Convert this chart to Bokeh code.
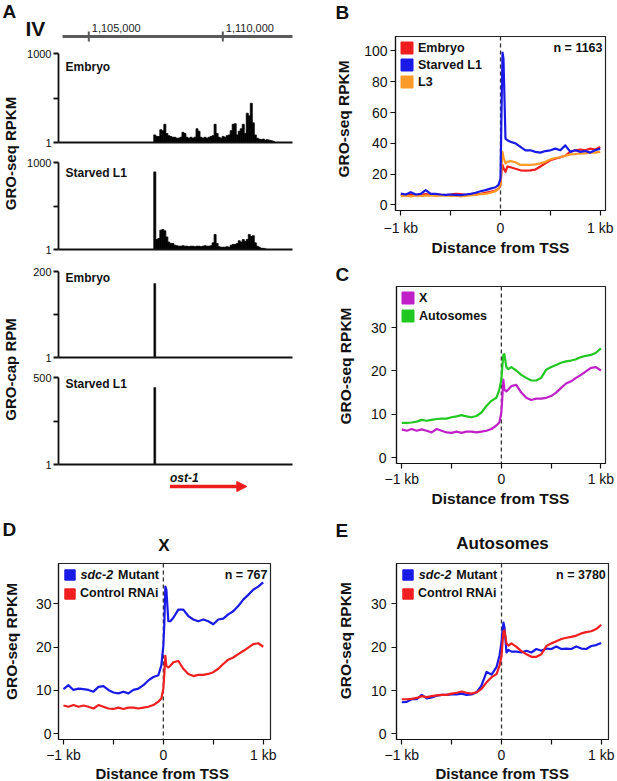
import math
from bokeh.plotting import figure
from bokeh.models import (Range1d, FixedTicker, Label, Span, Legend, LegendItem,
                          Arrow, NormalHead, PrintfTickFormatter)
from bokeh.layouts import row, column
from bokeh.embed import file_html
from bokeh.resources import INLINE

FONT = "Liberation Sans"
INK = "#111111"

# ---------------- Panel A data: genome browser, chromosome IV ----------------
chrom = "IV"
region_start = 1103870
region_end = 1112600
ruler_start = 1104020
ruler_ticks = [1105000, 1110000]
ruler_labels = ["1,105,000", "1,110,000"]
tss = 1107425
gene_end = 1110860
gene_name = "ost-1"
bin_size = 75
track_names = ["Embryo", "Starved L1", "Embryo", "Starved L1"]
track_max = [1000, 1000, 200, 500]
groseq_embryo = [1.8, 1.6, 1.6, 2.7, 2.5, 4.1, 2.0, 1.7, 1.6, 1.5,
                 1.5, 1.4, 1.4, 1.5, 2.2, 2.0, 1.5, 1.4, 1.5, 1.4,
                 1.5, 2.9, 2.4, 1.5, 1.4, 1.5, 1.4, 1.5, 1.6, 1.7,
                 4.1, 2.0, 1.5, 1.4, 1.6, 1.5, 1.7, 1.8, 2.5, 4.1,
                 4.3, 1.8, 2.4, 2.9, 4.1, 2.0, 9.7, 7.9, 21.0, 4.6,
                 1.8, 1.4, 1.3, 1.25, 1.3, 1.2, 1.25, 1.2, 1.15, 1.1]
groseq_l1 = [475, 2.2, 2.4, 4.6, 4.9, 4.4, 2.7, 1.8, 1.6, 1.6,
             1.4, 1.35, 1.3, 1.3, 1.35, 1.3, 1.3, 1.25, 1.3, 1.3,
             1.25, 1.3, 1.3, 1.25, 1.3, 1.35, 1.3, 1.3, 1.35, 1.7,
             3.3, 1.6, 1.25, 1.2, 1.2, 1.2, 1.25, 1.2, 1.4, 1.5,
             1.5, 1.6, 2.0, 1.8, 2.2, 1.9, 2.2, 3.3, 2.8, 3.0,
             1.7, 1.3, 1.2, 1.1, 1.1, 1.05]
grocap_embryo = [95]
grocap_l1 = [246]

# ---------------- Panels B-E data: metagene profiles (kb from TSS) ----------------
dist_kb = [-1.0, -0.95, -0.9, -0.85, -0.8, -0.75, -0.7, -0.65, -0.6, -0.55,
           -0.5, -0.45, -0.4, -0.35, -0.3, -0.25, -0.2, -0.15, -0.1, -0.05,
           -0.02, 0.0, 0.01, 0.02, 0.03, 0.05, 0.07, 0.1, 0.15, 0.2,
           0.25, 0.3, 0.35, 0.4, 0.45, 0.5, 0.55, 0.6, 0.65, 0.7,
           0.75, 0.8, 0.85, 0.9, 0.95, 1.0]
b_embryo = [6.5, 6.3, 6.8, 6.4, 6.6, 7.0, 6.5, 6.8, 6.6, 6.4,
            6.8, 7.2, 7.0, 6.6, 6.8, 7.0, 7.2, 7.8, 8.5, 9.4,
            10.5, 13.0, 21.7, 26.0, 24.0, 21.5, 25.0, 24.5, 23.5, 22.5,
            22.3, 22.5, 23.0, 25.0, 27.0, 29.0, 30.0, 31.0, 32.0, 34.5,
            35.5, 36.0, 35.5, 36.6, 36.0, 37.7]
b_l1 = [7.4, 6.8, 8.3, 6.8, 7.2, 9.6, 7.2, 7.2, 6.8, 6.6,
        6.8, 6.6, 6.4, 6.8, 7.2, 7.9, 8.9, 9.6, 10.6, 11.5,
        13.0, 17.0, 60.0, 99.0, 95.0, 43.0, 42.0, 41.0, 40.0, 37.7,
        35.5, 35.5, 34.5, 34.0, 35.0, 35.5, 36.6, 35.5, 38.7, 34.5,
        35.5, 34.5, 35.0, 34.0, 35.5, 36.6]
b_l3 = [5.8, 6.0, 5.6, 6.2, 5.8, 6.0, 6.2, 5.8, 6.0, 6.2,
        5.8, 6.0, 5.6, 5.8, 6.2, 6.5, 7.0, 7.2, 7.9, 9.0,
        10.5, 14.0, 25.0, 34.5, 31.0, 27.0, 28.0, 28.5, 27.7, 26.0,
        26.0, 26.0, 26.4, 27.0, 28.0, 29.6, 30.5, 31.0, 32.0, 32.8,
        33.0, 33.4, 33.5, 34.0, 34.0, 34.5]
x_control = [6.5, 6.2, 6.6, 6.2, 6.5, 6.2, 5.8, 6.6, 6.2, 5.8,
             5.7, 6.0, 5.7, 6.0, 6.0, 5.8, 6.0, 6.2, 6.6, 7.4,
             8.1, 10.4, 14.0, 18.0, 15.7, 15.3, 15.7, 16.5, 16.8, 15.0,
             13.8, 13.3, 13.6, 13.6, 13.8, 14.2, 15.0, 16.1, 17.1, 17.6,
             18.4, 19.1, 19.9, 20.7, 20.9, 20.1]
auto_control = [8.0, 8.0, 8.1, 8.3, 8.7, 8.5, 8.7, 8.9, 9.0, 9.0,
                9.3, 9.5, 9.8, 9.5, 9.3, 9.6, 10.4, 11.9, 13.1, 13.8,
                15.7, 18.0, 21.0, 23.7, 23.9, 20.9, 20.4, 20.9, 20.1, 19.1,
                18.4, 17.8, 17.8, 18.4, 20.3, 20.9, 21.4, 21.9, 22.2, 22.4,
                22.7, 23.2, 23.5, 23.7, 24.2, 25.2]
x_sdc2 = [10.3, 11.2, 10.1, 10.4, 10.3, 10.1, 9.7, 10.8, 11.0, 10.1,
          9.5, 9.3, 9.7, 9.3, 10.1, 10.4, 11.2, 12.3, 13.1, 13.5,
          15.8, 20.3, 25.7, 34.0, 33.3, 26.0, 26.0, 26.8, 28.7, 28.7,
          27.2, 26.4, 26.0, 26.4, 26.0, 25.3, 26.4, 26.6, 27.6, 28.3,
          29.5, 31.0, 32.1, 33.3, 34.0, 35.0]
auto_sdc2 = [7.3, 7.4, 8.0, 8.0, 9.0, 8.2, 8.4, 8.8, 9.0, 9.0,
             9.1, 9.1, 9.3, 9.0, 9.1, 9.6, 11.2, 14.3, 13.7, 15.4,
             18.1, 21.1, 24.0, 25.7, 24.5, 18.8, 19.4, 19.0, 19.0, 18.8,
             19.2, 18.8, 19.6, 19.2, 19.7, 19.6, 20.2, 19.6, 19.7, 19.6,
             20.2, 19.7, 19.6, 20.3, 20.5, 21.0]
n_genes = {"B": "n = 1163", "D": "n = 767", "E": "n = 3780"}

RED = "#F01E1E"
BLUE = "#1A1AE6"
ORANGE = "#FF9A28"
MAGENTA = "#C020C8"
GREEN = "#22C822"
NAN = float("nan")


# ---------------- layout helpers (pixel boxes: left, top, right, bottom) ----------------
def panel(box, frame, xr, yr, ylog=False, axes=True):
    L, T, R, B = box
    fl, ft, fr, fb = frame
    p = figure(width=R - L, height=B - T,
               x_range=Range1d(*xr), y_range=Range1d(*yr),
               y_axis_type="log" if ylog else "linear",
               x_axis_location="below" if axes else None,
               y_axis_location="left" if axes else None,
               min_border_left=round(fl - L), min_border_right=round(R - fr),
               min_border_top=round(ft - T), min_border_bottom=round(B - fb),
               output_backend="svg", toolbar_location=None,
               background_fill_color="white", border_fill_color="white")
    p.grid.visible = False
    p.outline_line_color = None
    fl, fr = L + round(fl - L), R - round(R - fr)
    ft, fb = T + round(ft - T), B - round(B - fb)

    def dx(r):
        return xr[0] + (r - fl) / (fr - fl) * (xr[1] - xr[0])

    def dy(r):
        t = (fb - r) / (fb - ft)
        if ylog:
            a, b = math.log10(yr[0]), math.log10(yr[1])
            return 10 ** (a + t * (b - a))
        return yr[0] + t * (yr[1] - yr[0])

    return p, dx, dy


def strip(box):
    p, _, _ = panel(box, box, (box[0], box[2]), (box[3], box[1]), axes=False)
    return p


def label(p, x, y, text, size, style="normal", align="left", angle=0.0,
          color=INK, x_offset=0):
    p.add_layout(Label(x=x, y=y, text=text, text_font=FONT,
                       text_font_size=f"{size}px", text_font_style=style,
                       text_align=align, text_baseline="middle", angle=angle,
                       text_color=color, x_offset=x_offset))


def style_axis(ax, standoff, size="14px", width=1.2, tick=5):
    ax.axis_line_color = INK
    ax.axis_line_width = width
    ax.major_tick_line_color = INK
    ax.major_tick_line_width = width
    ax.minor_tick_line_color = INK
    ax.minor_tick_line_width = width
    ax.major_tick_in = 0
    ax.major_tick_out = tick
    ax.minor_tick_in = 0
    ax.minor_tick_out = tick
    ax.major_label_standoff = standoff
    ax.major_label_text_font = FONT
    ax.major_label_text_font_size = size
    ax.major_label_text_color = INK


# ---------------- Panel A ----------------
T_FL, T_FR = 58, 292
bp_per_px = (region_end - region_start) / (T_FR - T_FL)
head_xr = (region_start - T_FL * bp_per_px, region_start + (300 - T_FL) * bp_per_px)

head, hdx, hdy = panel((0, 0, 300, 46), (0, 0, 300, 46), head_xr, (46, 0), axes=False)
label(head, hdx(2), 10.5, "A", 19, "bold")
label(head, hdx(25), 27.5, chrom, 21, "bold")
head.line([ruler_start, region_end], [36, 36], line_color="#5a5a5a", line_width=3)
head.segment(x0=ruler_ticks, x1=ruler_ticks, y0=[31] * len(ruler_ticks),
             y1=[41] * len(ruler_ticks), line_color="#5a5a5a", line_width=2)
for tk, tl in zip(ruler_ticks, ruler_labels):
    label(head, tk, 27, tl, 11, x_offset=3, color="#222222")

labcol = strip((0, 46, 20, 513))
label(labcol, 10, 153, "GRO-seq RPKM", 15, "bold", align="center", angle=math.pi / 2)
label(labcol, 9.5, 369, "GRO-cap RPM", 15, "bold", align="center", angle=math.pi / 2)

track_boxes = [(46, 148, 53, 141.5), (148, 256, 162, 249),
               (256, 364, 271, 357), (364, 470, 377, 464)]
track_vals = [groseq_embryo, groseq_l1, grocap_embryo, grocap_l1]
track_label_y = [66, 172.5, 277, 383]
tracks = []
for (bt, bb, ftop, fbot), vals, top, name, ly in zip(track_boxes, track_vals, track_max,
                                                     track_names, track_label_y):
    p, dx, dy = panel((20, bt, 300, bb), (T_FL, ftop, T_FR, fbot),
                      (region_start, region_end), (1, top), ylog=True)
    xs = [tss + (i + 0.5) * bin_size for i in range(len(vals))]
    p.vbar(x=xs, top=vals, bottom=1, width=bin_size, fill_color="black",
           line_color="black", line_width=0.8 if len(vals) > 1 else 0.4)
    yax = p.yaxis[0]
    yax.ticker = FixedTicker(ticks=[1, top], minor_ticks=[math.sqrt(top)])
    yax.formatter = PrintfTickFormatter(format="%d")
    style_axis(yax, 2, size="11px", width=1.8, tick=5)
    xax = p.xaxis[0]
    xax.ticker = FixedTicker(ticks=[])
    style_axis(xax, 0, size="1px", width=1.8, tick=0)
    label(p, dx(65), dy(ly), name, 12, "bold")
    tracks.append(p)

arr = strip((20, 470, 300, 513))
arr.x_range = Range1d(region_start - (T_FL - 20) * bp_per_px,
                      region_start + (300 - T_FL) * bp_per_px)
label(arr, tss, 477, gene_name, 12, "bold italic")
arr.add_layout(Arrow(end=NormalHead(size=10, fill_color="#EE1C1C", line_color="#EE1C1C"),
                     x_start=tss, x_end=gene_end, y_start=486, y_end=486,
                     line_color="#EE1C1C", line_width=3.5))


# ---------------- profile panels ----------------
def profile(top_box, left_box, fig_box, bottom_box, frame, xr, yr, yticks, series,
            entries, letter, letter_xy, ylab_xy, xlab_xy, ystand, xstand,
            glyph=15, spacing=2, margin=4, standoff=4, lsize=12.5, xlab_size=15.5,
            ntext=None, title=None, title_xy=None, sdc_xy=None):
    p, dx, dy = panel(fig_box, frame, xr, yr)
    p.outline_line_color = "#222222"
    p.outline_line_width = 1.2
    p.add_layout(Span(location=0, dimension="height", line_color="#333333",
                      line_dash="4 3", line_width=1.3, level="underlay"))
    for ys, col in series:
        p.line(dist_kb, ys, line_color=col, line_width=2.2, line_join="round")
    xax = p.xaxis[0]
    xax.ticker = FixedTicker(ticks=[-1, 0, 1], minor_ticks=[-0.5, 0.5])
    xax.major_label_overrides = {-1: "\u22121 kb", 0: "0", 1: "1 kb"}
    style_axis(xax, xstand)
    yax = p.yaxis[0]
    yax.ticker = FixedTicker(ticks=yticks)
    style_axis(yax, ystand)
    items = []
    for lab, col in entries:
        r = p.quad(left=[NAN], right=[NAN], top=[NAN], bottom=[NAN],
                   fill_color=col, line_color=col)
        items.append(LegendItem(label=lab, renderers=[r]))
    p.add_layout(Legend(items=items, location="top_left", margin=margin, padding=0,
                        spacing=spacing, glyph_width=glyph, glyph_height=glyph,
                        label_height=12, label_width=10, label_standoff=standoff,
                        label_text_font=FONT, label_text_font_size=f"{lsize}px",
                        label_text_font_style="bold", label_text_color=INK,
                        border_line_color=None, background_fill_alpha=0))
    if ntext:
        label(p, dx(frame[2] - 3), dy(frame[1] + 11.5), ntext, 12.5, "bold", align="right")
    if sdc_xy:
        label(p, dx(sdc_xy[0]), dy(sdc_xy[1]), "sdc-2", lsize, "bold italic")
        label(p, dx(sdc_xy[0] + 37.5), dy(sdc_xy[1]), "Mutant", lsize, "bold")

    top = strip(top_box)
    label(top, letter_xy[0], letter_xy[1], letter, 19, "bold")
    if title:
        label(top, title_xy[0], title_xy[1], title, 17, "bold", align="center")
    left = strip(left_box)
    label(left, ylab_xy[0], ylab_xy[1], "GRO-seq RPKM", 15.5, "bold",
          align="center", angle=math.pi / 2)
    bottom = strip(bottom_box)
    label(bottom, xlab_xy[0], xlab_xy[1], "Distance from TSS", xlab_size, "bold",
          align="center")
    return column(top, row(left, p), bottom)


blockB = profile((300, 0, 617, 30), (300, 30, 355, 238), (355, 30, 617, 238), (300, 238, 617, 258),
                 (395, 35.7, 605, 213.3), (-1.053, 1.053), (-3.6, 109.4),
                 [0, 20, 40, 60, 80, 100],
                 [(b_embryo, RED), (b_l3, ORANGE), (b_l1, BLUE)],
                 [("Embryo", RED), ("Starved L1", BLUE), ("L3", ORANGE)],
                 "B", (335, 11.5), (343, 128.5), (500, 247), 3, 4,
                 glyph=15, spacing=2, margin=4, standoff=4,
                 ntext=n_genes["B"])

blockC = profile((300, 258, 617, 285), (300, 285, 355, 489), (355, 285, 617, 489), (300, 489, 617, 513),
                 (395.7, 285.7, 605, 465), (-1.053, 1.046), (-1.37, 39.5),
                 [0, 10, 20, 30],
                 [(x_control, MAGENTA), (auto_control, GREEN)],
                 [("X", MAGENTA), ("Autosomes", GREEN)],
                 "C", (335, 274), (345, 376.7), (500, 497.5), 5, 2,
                 glyph=15, spacing=3, margin=4, standoff=4)

blockD = profile((0, 513, 300, 560), (0, 560, 24, 765), (24, 560, 300, 765), (0, 765, 300, 781),
                 (57.7, 563.3, 270, 741.7), (-1.05, 1.073), (-1.37, 39.36),
                 [0, 10, 20, 30],
                 [(x_control, RED), (x_sdc2, BLUE)],
                 [(" ", BLUE), ("Control RNAi", RED)],
                 "D", (2, 529), (10.8, 650.8), (161.7, 773), 2, 2,
                 glyph=13, spacing=5, margin=5, standoff=4, xlab_size=15,
                 ntext=n_genes["D"], title="X", title_xy=(163.5, 545), sdc_xy=(80, 575))

blockE = profile((300, 513, 617, 560), (300, 560, 355, 765), (355, 560, 617, 765), (300, 765, 617, 781),
                 (395.7, 563.3, 608.3, 741.7), (-1.053, 1.073), (-1.30, 39.35),
                 [0, 10, 20, 30],
                 [(auto_sdc2, BLUE), (auto_control, RED)],
                 [(" ", BLUE), ("Control RNAi", RED)],
                 "E", (335, 530), (345, 650), (501.7, 773), 5, 2,
                 glyph=13, spacing=5, margin=5, standoff=4, xlab_size=15,
                 ntext=n_genes["E"], title="Autosomes", title_xy=(502, 543),
                 sdc_xy=(418.3, 575))

# ---------------- assemble ----------------
left_stack = column(*tracks, arr)
top_left = column(head, row(labcol, left_stack))
top_right = column(blockB, blockC)
root = column(row(top_left, top_right), row(blockD, blockE))

open("out.html", "w").write(file_html(root, INLINE))
